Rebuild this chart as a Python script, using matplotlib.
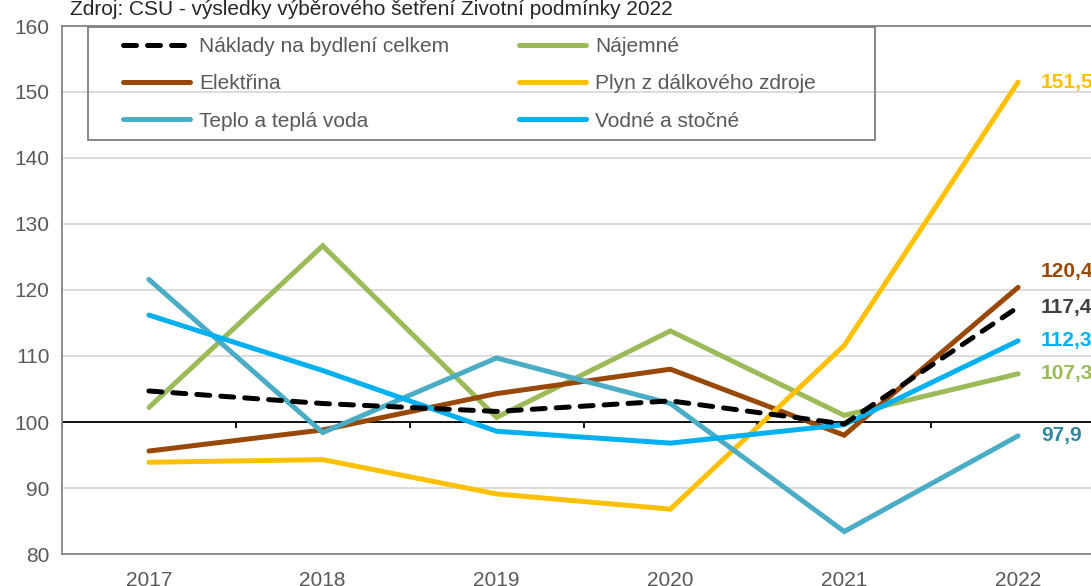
import numpy as np
import matplotlib
matplotlib.use("Agg")
import matplotlib.pyplot as plt
from matplotlib.patches import Rectangle

plt.rcParams["font.family"] = ["Liberation Sans", "DejaVu Sans"]

years = [2017, 2018, 2019, 2020, 2021, 2022]
naklady = [104.7, 102.8, 101.6, 103.2, 99.7, 117.4]
najemne = [102.2, 126.7, 100.7, 113.8, 101.0, 107.3]
elektrina = [95.6, 98.8, 104.3, 108.0, 98.0, 120.4]
plyn = [93.9, 94.3, 89.1, 86.8, 111.6, 151.5]
teplo = [121.6, 98.4, 109.7, 102.8, 83.4, 97.9]
vodne = [116.2, 107.8, 98.6, 96.8, 99.6, 112.3]

names = ["Náklady na bydlení celkem", "Nájemné", "Elektřina",
         "Plyn z dálkového zdroje", "Teplo a teplá voda", "Vodné a stočné"]
colors = ["#000000", "#9BBB59", "#984807", "#FFC000", "#4BACC6", "#00B0F0"]
label_colors = ["#404040", "#9BBB59", "#984807", "#FFC000", "#31859C", "#00B0F0"]
label_dy = [0, 0, 16, 0, 0, 0]  # pixels

series = [naklady, najemne, elektrina, plyn, teplo, vodne]

fntsz = 15
grey = "#595959"

fig = plt.figure(figsize=(10.91, 5.86), dpi=100)
W, H = 1091, 586
ax = fig.add_axes([62 / W, 1 - 554 / H, (1105 - 62) / W, (554 - 26) / H])

handles = []
for i, (vals, c) in enumerate(zip(series, colors)):
    if i == 0:
        continue
    h, = ax.plot(years, vals, color=c, lw=3.6, solid_capstyle="round",
                 solid_joinstyle="miter", zorder=3)
    handles.append(h)
h0, = ax.plot(years, naklady, color="black", lw=3.6, dashes=(2.6, 2.2),
              dash_capstyle="round", zorder=4)
handles.insert(0, h0)

for vals, lc, dy in zip(series, label_colors, label_dy):
    ax.annotate(f"{vals[-1]:.1f}".replace(".", ","), (years[-1], vals[-1]),
                xytext=(23, dy), textcoords="offset pixels", va="center",
                ha="left", color=lc, fontsize=fntsz, fontweight="bold",
                annotation_clip=False)

ax.set_xlim(years[0] - 0.5, years[-1] + 0.5)
ax.set_ylim(80, 160)
ax.set_yticks(np.arange(80, 161, 10))
ax.set_xticks(years)
ax.yaxis.grid(True, color="#D9D9D9", lw=1.3, zorder=0)
ax.set_axisbelow(True)

# axis line at 100 with category tick marks
ax.axhline(100, color="black", lw=1.3, zorder=2)
bounds = np.arange(years[0] - 0.5, years[-1] + 1, 1.0)
ax.vlines(bounds, 99.1, 100, color="black", lw=1.3, zorder=2)

for s in ["left", "bottom", "top"]:
    ax.spines[s].set_color("#868686")
    ax.spines[s].set_linewidth(1.3)
ax.spines["right"].set_visible(False)
ax.tick_params(axis="both", length=0, labelsize=fntsz, labelcolor=grey)
ax.tick_params(axis="y", pad=9)
ax.tick_params(axis="x", pad=12)

fig.text(70 / W, 1 - 15 / H, "Zdroj: ČSÚ - výsledky výběrového šetření Životní podmínky 2022",
         fontsize=fntsz, color="#262626", va="baseline", ha="left")

# legend (frame drawn separately)
order = [0, 2, 4, 1, 3, 5]
leg = fig.legend([handles[k] for k in order], [names[k] for k in order],
                 ncol=2, loc="upper left", bbox_to_anchor=(123 / W, 1 - 37 / H),
                 frameon=False, fontsize=fntsz, handlelength=3.2,
                 handletextpad=0.45, columnspacing=3.35, labelspacing=0.88,
                 borderpad=0, borderaxespad=0)
for t in leg.get_texts():
    t.set_color(grey)
fig.add_artist(Rectangle((88 / W, 1 - 140 / H), (875 - 88) / W, (140 - 27) / H,
                         transform=fig.transFigure, fill=False,
                         edgecolor="#7F7F7F", lw=1.3))

fig.savefig("out.png", dpi=100)
